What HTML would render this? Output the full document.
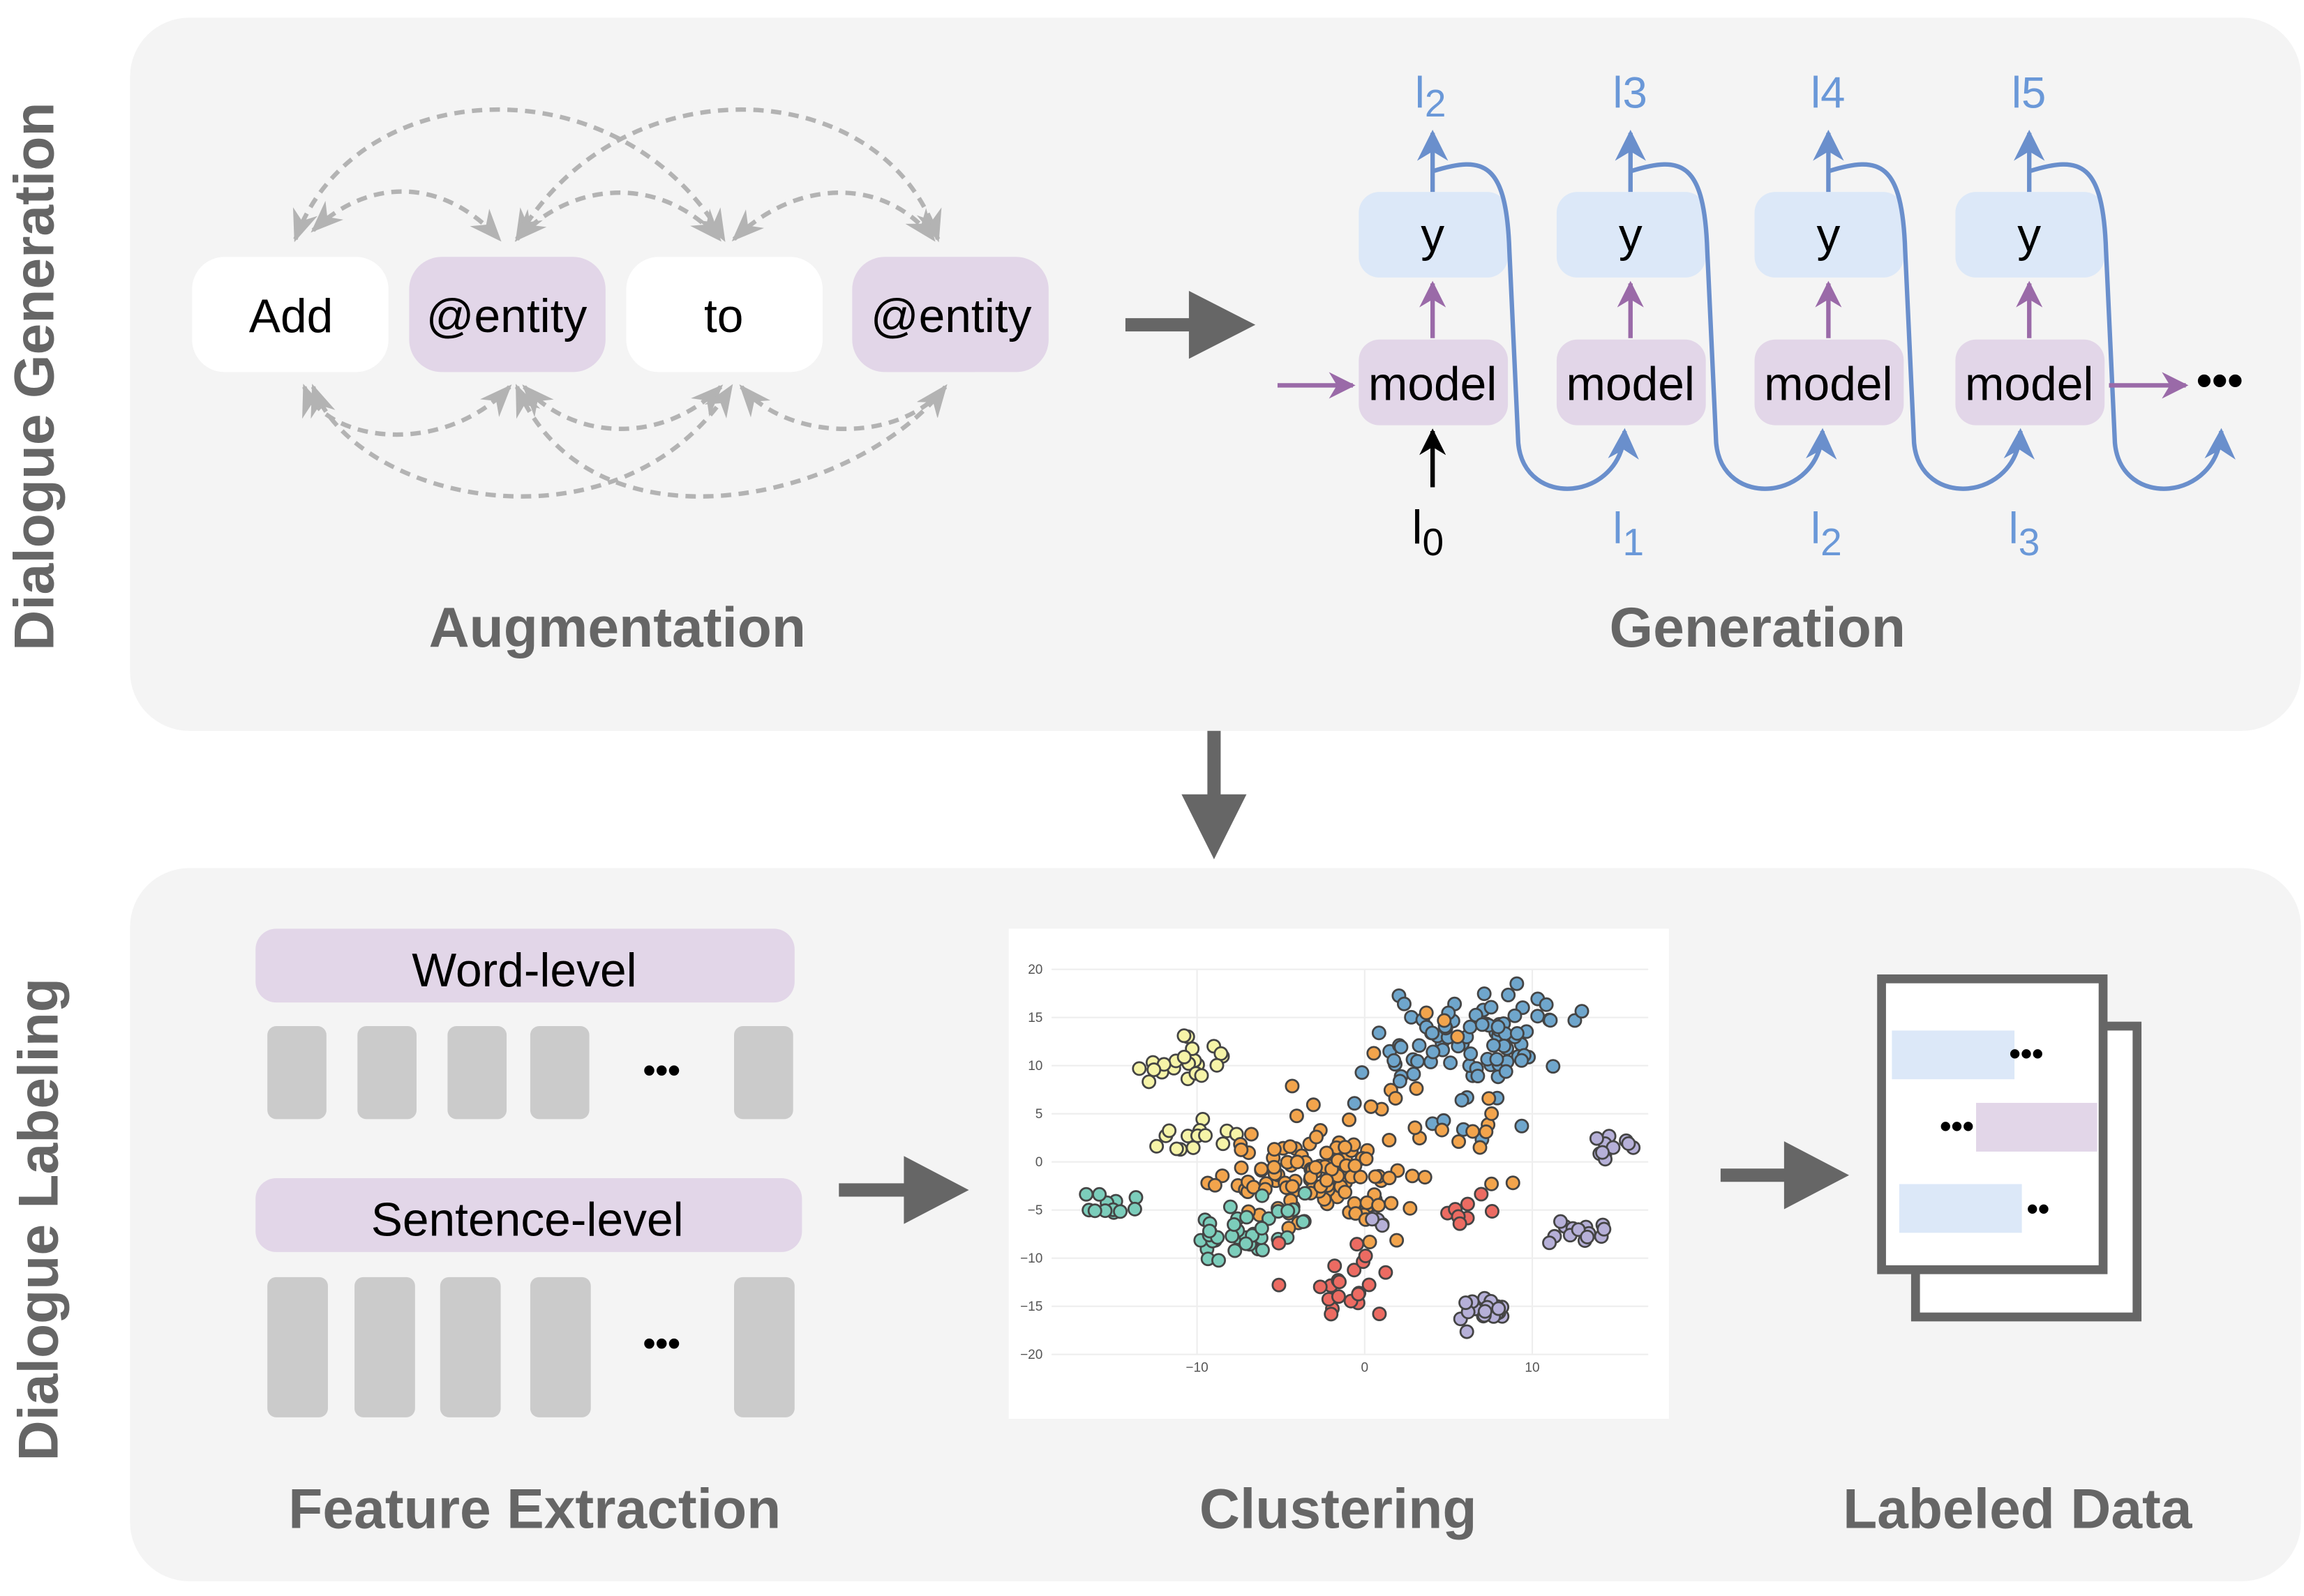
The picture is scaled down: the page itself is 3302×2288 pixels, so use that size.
<!DOCTYPE html>
<html><head><meta charset="utf-8"><style>
html,body{margin:0;padding:0;background:#fff;}
svg{display:block;}
text{font-family:"Liberation Sans",Arial,sans-serif;}
</style></head><body>
<svg id="s" width="3302" height="2288" viewBox="0 0 1560 1081" xmlns="http://www.w3.org/2000/svg">
<defs>
<marker id="ga" viewBox="0 0 10 10" refX="9" refY="5" markerWidth="22" markerHeight="22" orient="auto-start-reverse" markerUnits="userSpaceOnUse"><path d="M0,1 L10,5 L0,9 L3,5 z" fill="#b3b3b3"/></marker>
<marker id="ba" viewBox="0 0 10 10" refX="9" refY="5" markerWidth="7" markerHeight="7" orient="auto"><path d="M0,0 L10,5 L0,10 L3,5 z" fill="#6a8fcc"/></marker>
<marker id="pa" viewBox="0 0 10 10" refX="9" refY="5" markerWidth="6" markerHeight="6" orient="auto"><path d="M0,0 L10,5 L0,10 L3,5 z" fill="#9a6aa8"/></marker>
<marker id="ka" viewBox="0 0 10 10" refX="9" refY="5" markerWidth="6" markerHeight="6" orient="auto"><path d="M0,0 L10,5 L0,10 L3,5 z" fill="#000"/></marker>
</defs>
<rect width="1560" height="1081" fill="#fff"/>
<rect x="88" y="12" width="1470" height="483" rx="40" fill="#f4f4f4"/>
<rect x="88" y="588" width="1470" height="483" rx="40" fill="#f4f4f4"/>
<text transform="translate(36,255) rotate(-90)" text-anchor="middle" font-size="38" font-weight="bold" fill="#666">Dialogue Generation</text>
<text transform="translate(39,826) rotate(-90)" text-anchor="middle" font-size="38" font-weight="bold" fill="#666">Dialogue Labeling</text>

<rect x="130" y="174" width="133" height="78" rx="22" fill="#fff"/>
<rect x="277" y="174" width="133" height="78" rx="22" fill="#e2d6e8"/>
<rect x="424" y="174" width="133" height="78" rx="22" fill="#fff"/>
<rect x="577" y="174" width="133" height="78" rx="22" fill="#e2d6e8"/>
<g font-size="32" text-anchor="middle" fill="#000">
<text x="197" y="225">Add</text><text x="343" y="225">@entity</text><text x="490" y="225">to</text><text x="644" y="225">@entity</text>
</g>
<g fill="none" stroke="#b3b3b3" stroke-width="3" stroke-dasharray="7,5" marker-start="url(#ga)" marker-end="url(#ga)">
<path d="M200,162 C240,50 420,40 490,162"/>
<path d="M350,162 C420,40 600,50 635,162"/>
<path d="M212,156 C250,120 300,120 338,162"/>
<path d="M350,162 C390,120 450,120 487,162"/>
<path d="M497,162 C540,120 600,120 632,162"/>
<path d="M206,262 C220,300 300,310 345,262"/>
<path d="M355,262 C390,300 450,300 488,262"/>
<path d="M502,262 C535,300 610,300 640,262"/>
<path d="M212,262 C240,340 420,380 495,262"/>
<path d="M350,262 C400,380 580,340 640,262"/>
</g>
<path d="M762,220 L820,220" stroke="#666" stroke-width="9"/>
<path d="M805,197 L850,220 L805,243 z" fill="#666"/>
<text x="418" y="438" text-anchor="middle" font-size="38" font-weight="bold" fill="#666">Augmentation</text>
<text x="1190" y="438" text-anchor="middle" font-size="38" font-weight="bold" fill="#666">Generation</text>

<g id="gen"></g>
<path d="M865,261 L916,261" stroke="#9a6aa8" stroke-width="3" marker-end="url(#pa)"/>
<path d="M1428,261 L1480,261" stroke="#9a6aa8" stroke-width="3" marker-end="url(#pa)"/>
<text x="1503" y="268" text-anchor="middle" font-size="30" font-weight="bold">•••</text>
<path d="M970,330 L970,292" stroke="#000" stroke-width="3" marker-end="url(#ka)"/>
<text x="956" y="368" font-size="32">l<tspan font-size="26" dy="8">0</tspan></text>

<path d="M822,495 L822,550" stroke="#666" stroke-width="9"/>
<path d="M800,538 L822,582 L844,538 z" fill="#666"/>
<rect x="173" y="629" width="365" height="50" rx="14" fill="#e2d6e8"/>
<text x="355" y="668" text-anchor="middle" font-size="32">Word-level</text>
<g fill="#cbcbcb">
<rect x="181" y="695" width="40" height="63" rx="6"/><rect x="242" y="695" width="40" height="63" rx="6"/><rect x="303" y="695" width="40" height="63" rx="6"/><rect x="359" y="695" width="40" height="63" rx="6"/><rect x="497" y="695" width="40" height="63" rx="6"/>
<rect x="181" y="865" width="41" height="95" rx="6"/><rect x="240" y="865" width="41" height="95" rx="6"/><rect x="298" y="865" width="41" height="95" rx="6"/><rect x="359" y="865" width="41" height="95" rx="6"/><rect x="497" y="865" width="41" height="95" rx="6"/>
</g>
<text x="448" y="733" text-anchor="middle" font-size="24" font-weight="bold">•••</text>
<text x="448" y="918" text-anchor="middle" font-size="24" font-weight="bold">•••</text>
<rect x="173" y="798" width="370" height="50" rx="14" fill="#e2d6e8"/>
<text x="357" y="837" text-anchor="middle" font-size="32">Sentence-level</text>
<path d="M568,806 L625,806" stroke="#666" stroke-width="9"/>
<path d="M612,783 L656,806 L612,829 z" fill="#666"/>
<path d="M1165,796 L1222,796" stroke="#666" stroke-width="9"/>
<path d="M1208,773 L1252,796 L1208,819 z" fill="#666"/>

<rect x="683" y="629" width="447" height="332" fill="#fff"/>
<g id="plot"></g>

<rect x="1297" y="695" width="150" height="197" fill="#fff" stroke="#666" stroke-width="6"/>
<rect x="1274" y="663" width="150" height="197" fill="#fff" stroke="#666" stroke-width="6"/>
<rect x="1281" y="698" width="83" height="33" fill="#dce8f8"/>
<rect x="1338" y="747" width="82" height="33" fill="#e2d6e8"/>
<rect x="1286" y="802" width="83" height="33" fill="#dce8f8"/>
<text x="1372" y="721" text-anchor="middle" font-size="22" font-weight="bold">•••</text>
<text x="1325" y="770" text-anchor="middle" font-size="22" font-weight="bold">•••</text>
<text x="1380" y="826" text-anchor="middle" font-size="22" font-weight="bold">••</text>

<text x="362" y="1035" text-anchor="middle" font-size="38" font-weight="bold" fill="#666">Feature Extraction</text>
<text x="906" y="1035" text-anchor="middle" font-size="38" font-weight="bold" fill="#666">Clustering</text>
<text x="1366" y="1035" text-anchor="middle" font-size="38" font-weight="bold" fill="#666">Labeled Data</text>
</svg>
<script>
(function(){
var NS="http://www.w3.org/2000/svg";
function el(p,t,a,txt){var e=document.createElementNS(NS,t);for(var k in a)e.setAttribute(k,a[k]);if(txt!==undefined)e.textContent=txt;p.appendChild(e);return e;}
var g=document.getElementById("gen");
var xs=[970,1104,1238,1374];
var topL=["2","3","4","5"],botL=["1","2","3"];
for(var i=0;i<4;i++){
 var x=xs[i];
 el(g,"rect",{x:x-50,y:130,width:101,height:58,rx:14,fill:"#dce8f8"});
 el(g,"rect",{x:x-50,y:230,width:101,height:58,rx:14,fill:"#e2d6e8"});
 el(g,"text",{x:x,y:170,"text-anchor":"middle","font-size":32},"y");
 el(g,"text",{x:x,y:271,"text-anchor":"middle","font-size":32},"model");
 el(g,"path",{d:"M"+x+",229 L"+x+",192",stroke:"#9a6aa8","stroke-width":3,"marker-end":"url(#pa)"});
 el(g,"path",{d:"M"+x+",130 L"+x+",90",stroke:"#6a8fcc","stroke-width":3,fill:"none","marker-end":"url(#ba)"});
 var t=el(g,"text",{x:x-12,y:73,"font-size":30,fill:"#6a98d8"},"l");
 el(t,"tspan",{dy:i==0?6:0,"font-size":i==0?26:30},topL[i]);
 var nx=x+134;
 el(g,"path",{d:"M"+x+",116 C"+(x+35)+",105 "+(x+50)+",110 "+(x+52)+",170 L"+(x+58)+",300 C"+(x+62)+",345 "+(x+128)+",340 "+(x+130)+",292",stroke:"#6a8fcc","stroke-width":3,fill:"none","marker-end":"url(#ba)"});
 if(i<3){var b=el(g,"text",{x:nx-12,y:368,"font-size":30,fill:"#6a98d8"},"l");el(b,"tspan",{dy:8,"font-size":26},botL[i]);}
}
var P=document.getElementById("plot");
function X(v){return 924+v*11.35;} function Y(v){return 787-v*6.52;}
for(var v=-20;v<=20;v+=5){el(P,"line",{x1:712,x2:1116,y1:Y(v),y2:Y(v),stroke:"#eee","stroke-width":1});el(P,"text",{x:706,y:Y(v)+3,"text-anchor":"end","font-size":9,fill:"#555"},String(v).replace("-","−"));}
[-10,0,10].forEach(function(v){el(P,"line",{x1:X(v),x2:X(v),y1:Y(20),y2:Y(-20),stroke:"#eee","stroke-width":1});el(P,"text",{x:X(v),y:929,"text-anchor":"middle","font-size":9,fill:"#555"},String(v).replace("-","−"));});
var seed=7;function r(){seed=(seed*16807)%2147483647;return seed/2147483647;}
function gr(){return (r()+r()+r()-1.5)*1.3;}
var cl=[["#6fa6cc",6.2,12.5,4.2,3.8,90],["#6fa6cc",4,4,4,6,8],["#f6f4a8",-10.5,10.5,2,2,22],["#f6f4a8",-10,2.5,2.2,1.3,15],["#f2a44c",-3,-2,3.8,3.2,100],["#f2a44c",1,2,7,8,45],["#7ccdbb",-8,-8,2.2,1.8,30],["#7ccdbb",-15.5,-4.5,1.6,1,12],["#7ccdbb",-6,-4.5,2,1.8,10],["#ec6b62",-1,-13.5,1.6,1.8,16],["#ec6b62",5.8,-4.8,1.2,1.2,8],["#ec6b62",0,-10,4,3,6],["#b6b0d8",7.5,-15.5,1.4,1.6,22],["#b6b0d8",14.5,1.2,1.2,0.9,12],["#b6b0d8",12.5,-7.5,1.7,1.1,14],["#b6b0d8",1,-6,0.8,1,5]];
cl.forEach(function(c){for(var k=0;k<c[5];k++){el(P,"circle",{cx:X(c[1]+gr()*c[3]),cy:Y(c[2]+gr()*c[4]),r:4.3,fill:c[0],stroke:"#444","stroke-width":1.3});}});
})();
</script>
</body></html>
